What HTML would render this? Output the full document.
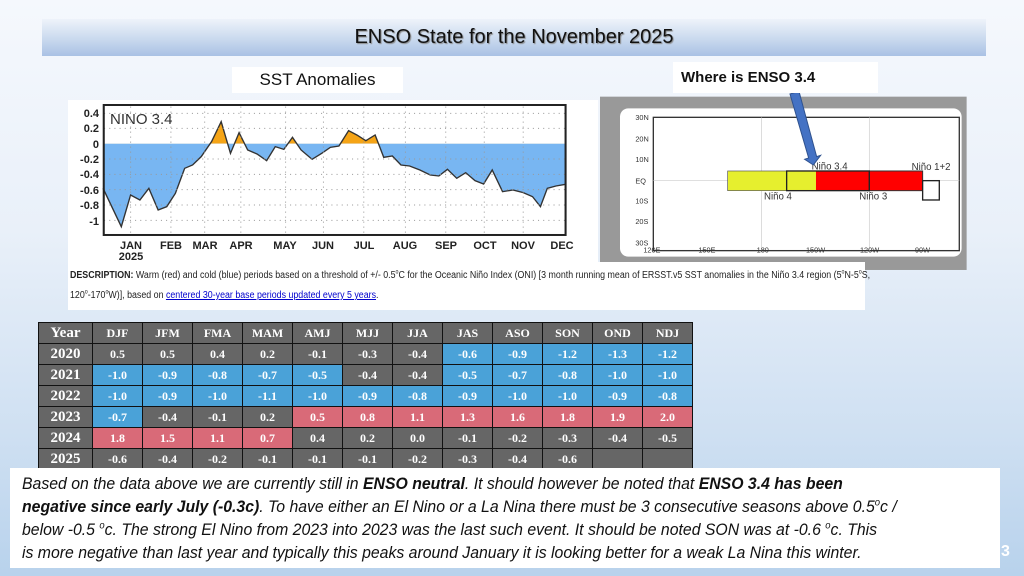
<!DOCTYPE html>
<html><head><meta charset="utf-8"><style>
*{margin:0;padding:0;box-sizing:border-box}
body{width:1024px;height:576px;overflow:hidden;position:relative;font-family:"Liberation Sans",sans-serif;background:linear-gradient(180deg,#f5f8fd 0%,#e9f0f9 40%,#cfe0f2 75%,#b8d2ec 100%)}
.abs{position:absolute}
sup{line-height:0;font-size:0.6em}
#title{left:42px;top:19px;width:944px;height:37px;background:linear-gradient(180deg,#eef3fa 0%,#c9d9ee 55%,#a9c1e4 100%);text-align:center;font-size:20px;line-height:37px;color:#111;text-shadow:1px 1px 1px #888}
table{border-collapse:collapse;font-family:"Liberation Serif",serif;font-weight:bold;color:#fff}
td{border:1px solid #111;text-align:center;font-size:12px;height:21px;width:50px;padding:0}
td.y{width:54px;font-size:15px}
.g{background:#666}.b{background:#4aa2d8}.r{background:#d96a78}
#txt{left:10px;top:468px;width:990px;height:100px;background:#fff;padding:4px 0 0 12px;font-size:17px;line-height:23px;font-style:italic;color:#111;white-space:nowrap}
#txt div{transform:scaleX(0.93);transform-origin:left}
</style></head><body>
<div id="title" class="abs">ENSO State for the November 2025</div>
<div class="abs" style="left:232px;top:67px;width:171px;height:26px;background:#fff;font-size:17px;line-height:26px;text-align:center;color:#111">SST Anomalies</div>
<div class="abs" style="left:68px;top:100px;width:530px;height:162px;background:#fff"></div>
<svg class="abs" style="left:0;top:0" width="1024" height="576">
<g transform="translate(60,60) scale(0.3444,0.3333)">
<defs>
<clipPath id="up"><rect x="0" y="0" width="2000" height="251"/></clipPath>
<clipPath id="dn"><rect x="0" y="251" width="2000" height="500"/></clipPath>
</defs>
<polygon clip-path="url(#up)" fill="#f5a416" points="125,251 125,385 178,500 205,405 232,420 258,385 285,450 310,440 335,400 362,325 385,315 410,290 440,245 468,185 495,280 520,218 545,270 572,282 600,302 625,260 650,268 675,232 700,270 732,298 760,280 785,262 810,258 838,212 862,225 888,242 915,225 940,292 965,288 990,315 1015,318 1045,330 1075,345 1100,348 1125,328 1152,355 1178,338 1205,362 1230,372 1255,330 1285,395 1315,390 1345,398 1372,410 1395,440 1415,385 1440,378 1468,373 1468,251"/>
<polygon clip-path="url(#dn)" fill="#78b6f2" points="125,251 125,385 178,500 205,405 232,420 258,385 285,450 310,440 335,400 362,325 385,315 410,290 440,245 468,185 495,280 520,218 545,270 572,282 600,302 625,260 650,268 675,232 700,270 732,298 760,280 785,262 810,258 838,212 862,225 888,242 915,225 940,292 965,288 990,315 1015,318 1045,330 1075,345 1100,348 1125,328 1152,355 1178,338 1205,362 1230,372 1255,330 1285,395 1315,390 1345,398 1372,410 1395,440 1415,385 1440,378 1468,373 1468,251"/>
<polyline fill="none" stroke="#333" stroke-width="4" points="125,385 178,500 205,405 232,420 258,385 285,450 310,440 335,400 362,325 385,315 410,290 440,245 468,185 495,280 520,218 545,270 572,282 600,302 625,260 650,268 675,232 700,270 732,298 760,280 785,262 810,258 838,212 862,225 888,242 915,225 940,292 965,288 990,315 1015,318 1045,330 1075,345 1100,348 1125,328 1152,355 1178,338 1205,362 1230,372 1255,330 1285,395 1315,390 1345,398 1372,410 1395,440 1415,385 1440,378 1468,373"/>
<g stroke="#999" stroke-width="3" stroke-dasharray="3,12">
<line x1="128" y1="160" x2="1468" y2="160"/><line x1="128" y1="205" x2="1468" y2="205"/><line x1="128" y1="297" x2="1468" y2="297"/><line x1="128" y1="343" x2="1468" y2="343"/><line x1="128" y1="389" x2="1468" y2="389"/><line x1="128" y1="435" x2="1468" y2="435"/><line x1="128" y1="481" x2="1468" y2="481"/>
<line x1="205" y1="140" x2="205" y2="525"/><line x1="322" y1="140" x2="322" y2="525"/><line x1="420" y1="140" x2="420" y2="525"/><line x1="525" y1="140" x2="525" y2="525"/><line x1="655" y1="140" x2="655" y2="525"/><line x1="765" y1="140" x2="765" y2="525"/><line x1="882" y1="140" x2="882" y2="525"/><line x1="1003" y1="140" x2="1003" y2="525"/><line x1="1120" y1="140" x2="1120" y2="525"/><line x1="1232" y1="140" x2="1232" y2="525"/><line x1="1345" y1="140" x2="1345" y2="525"/>
</g>
<rect x="127" y="135" width="1341" height="390" fill="none" stroke="#222" stroke-width="6"/>
</g>
<g font-family="Liberation Sans" font-size="11" font-weight="bold" fill="#222" text-anchor="end">
<text x="99" y="117">0.4</text><text x="99" y="132">0.2</text><text x="99" y="148">0</text><text x="99" y="163">-0.2</text><text x="99" y="178">-0.4</text><text x="99" y="194">-0.6</text><text x="99" y="209">-0.8</text><text x="99" y="225">-1</text>
</g>
<text x="110" y="124" font-family="Liberation Sans" font-size="15" fill="#333">NINO  3.4</text>
<g font-family="Liberation Sans" font-size="11" font-weight="bold" fill="#222" text-anchor="middle">
<text x="131" y="249">JAN</text><text x="131" y="260">2025</text><text x="171" y="249">FEB</text><text x="205" y="249">MAR</text><text x="241" y="249">APR</text><text x="285" y="249">MAY</text><text x="323" y="249">JUN</text><text x="364" y="249">JUL</text><text x="405" y="249">AUG</text><text x="446" y="249">SEP</text><text x="485" y="249">OCT</text><text x="523" y="249">NOV</text><text x="562" y="249">DEC</text>
</g>
<g transform="translate(600,60) scale(0.3333)">
<rect x="0" y="110" width="1100" height="520" fill="#999"/>
<rect x="60" y="145" width="1025" height="445" rx="25" fill="#fff"/>
<rect x="160" y="172" width="918" height="400" fill="#fff" stroke="#333" stroke-width="4"/>
<g stroke="#ccc" stroke-width="2"><line x1="160" y1="362" x2="1078" y2="362"/><line x1="485" y1="172" x2="485" y2="572"/><line x1="808" y1="172" x2="808" y2="572"/></g>
<rect x="383" y="333" width="177" height="59" fill="#e6ef2e" stroke="#555" stroke-width="2"/>
<rect x="560" y="333" width="88" height="59" fill="#e6ef2e"/>
<rect x="648" y="333" width="160" height="59" fill="#f00"/>
<rect x="808" y="333" width="160" height="59" fill="#f00" stroke="#333" stroke-width="3"/>
<rect x="560" y="333" width="248" height="59" fill="none" stroke="#222" stroke-width="4"/>
<rect x="968" y="362" width="50" height="58" fill="#fff" stroke="#222" stroke-width="4"/>
<g font-family="Liberation Sans" font-size="29" fill="#333">
<text x="635" y="328">Niño 3.4</text><text x="935" y="330">Niño 1+2</text><text x="492" y="418">Niño 4</text><text x="778" y="418">Niño 3</text>
<g font-size="22"><text x="106" y="180">30N</text><text x="106" y="244">20N</text><text x="106" y="306">10N</text><text x="106" y="370">EQ</text><text x="106" y="430">10S</text><text x="106" y="492">20S</text><text x="106" y="556">30S</text>
<text x="130" y="578">120E</text><text x="295" y="578">150E</text><text x="470" y="578">180</text><text x="618" y="578">150W</text><text x="780" y="578">120W</text><text x="945" y="578">90W</text></g>
</g>
<polygon points="570,102 597,94 650,290 662,286 640,315 614,298 626,294" fill="#4472c4" stroke="#2f528f" stroke-width="3"/>
</g>
</svg>
<div class="abs" style="left:673px;top:62px;width:205px;height:31px;background:#fff;font-weight:bold;font-size:15px;line-height:31px;padding-left:8px;color:#111">Where is ENSO 3.4</div>
<div class="abs" style="left:68px;top:262px;width:797px;height:48px;background:#fff;padding:4px 0 0 2px;color:#222;white-space:nowrap;font-size:10px;line-height:20px"><div style="transform:scaleX(0.885);transform-origin:left"><b>DESCRIPTION:</b> Warm (red) and cold (blue) periods based on a threshold of +/- 0.5<sup>o</sup>C for the Oceanic Niño Index (ONI) [3 month running mean of ERSST.v5 SST anomalies in the Niño 3.4 region (5<sup>o</sup>N-5<sup>o</sup>S,<br>120<sup>o</sup>-170<sup>o</sup>W)], based on <span style="color:#00c;text-decoration:underline">centered 30-year base periods updated every 5 years</span>.</div></div>
<table class="abs" style="left:38px;top:322px">
<tr class="g"><td class="y">Year</td><td>DJF</td><td>JFM</td><td>FMA</td><td>MAM</td><td>AMJ</td><td>MJJ</td><td>JJA</td><td>JAS</td><td>ASO</td><td>SON</td><td>OND</td><td>NDJ</td></tr>
<tr><td class="y g">2020</td><td class="g">0.5</td><td class="g">0.5</td><td class="g">0.4</td><td class="g">0.2</td><td class="g">-0.1</td><td class="g">-0.3</td><td class="g">-0.4</td><td class="b">-0.6</td><td class="b">-0.9</td><td class="b">-1.2</td><td class="b">-1.3</td><td class="b">-1.2</td></tr>
<tr><td class="y g">2021</td><td class="b">-1.0</td><td class="b">-0.9</td><td class="b">-0.8</td><td class="b">-0.7</td><td class="b">-0.5</td><td class="g">-0.4</td><td class="g">-0.4</td><td class="b">-0.5</td><td class="b">-0.7</td><td class="b">-0.8</td><td class="b">-1.0</td><td class="b">-1.0</td></tr>
<tr><td class="y g">2022</td><td class="b">-1.0</td><td class="b">-0.9</td><td class="b">-1.0</td><td class="b">-1.1</td><td class="b">-1.0</td><td class="b">-0.9</td><td class="b">-0.8</td><td class="b">-0.9</td><td class="b">-1.0</td><td class="b">-1.0</td><td class="b">-0.9</td><td class="b">-0.8</td></tr>
<tr><td class="y g">2023</td><td class="b">-0.7</td><td class="g">-0.4</td><td class="g">-0.1</td><td class="g">0.2</td><td class="r">0.5</td><td class="r">0.8</td><td class="r">1.1</td><td class="r">1.3</td><td class="r">1.6</td><td class="r">1.8</td><td class="r">1.9</td><td class="r">2.0</td></tr>
<tr><td class="y g">2024</td><td class="r">1.8</td><td class="r">1.5</td><td class="r">1.1</td><td class="r">0.7</td><td class="g">0.4</td><td class="g">0.2</td><td class="g">0.0</td><td class="g">-0.1</td><td class="g">-0.2</td><td class="g">-0.3</td><td class="g">-0.4</td><td class="g">-0.5</td></tr>
<tr><td class="y g">2025</td><td class="g">-0.6</td><td class="g">-0.4</td><td class="g">-0.2</td><td class="g">-0.1</td><td class="g">-0.1</td><td class="g">-0.1</td><td class="g">-0.2</td><td class="g">-0.3</td><td class="g">-0.4</td><td class="g">-0.6</td><td class="g"></td><td class="g"></td></tr>
</table>
<div id="txt" class="abs"><div>Based on the data above we are currently still in <b>ENSO neutral</b>. It should however be noted that <b>ENSO 3.4 has been</b></div><div><b>negative since early July (-0.3c)</b>. To have either an El Nino or a La Nina there must be 3 consecutive seasons above 0.5<sup>o</sup>c /</div><div>below -0.5 <sup>o</sup>c.  The strong El Nino from 2023 into 2023 was the last such event. It should be noted SON was at -0.6 <sup>o</sup>c.  This</div><div>is more negative than last year and typically this peaks around January it is looking better for a weak La Nina this winter.</div></div>
<div class="abs" style="left:1001px;top:543px;color:#fff;font-size:16px;font-weight:bold">3</div>
</body></html>
